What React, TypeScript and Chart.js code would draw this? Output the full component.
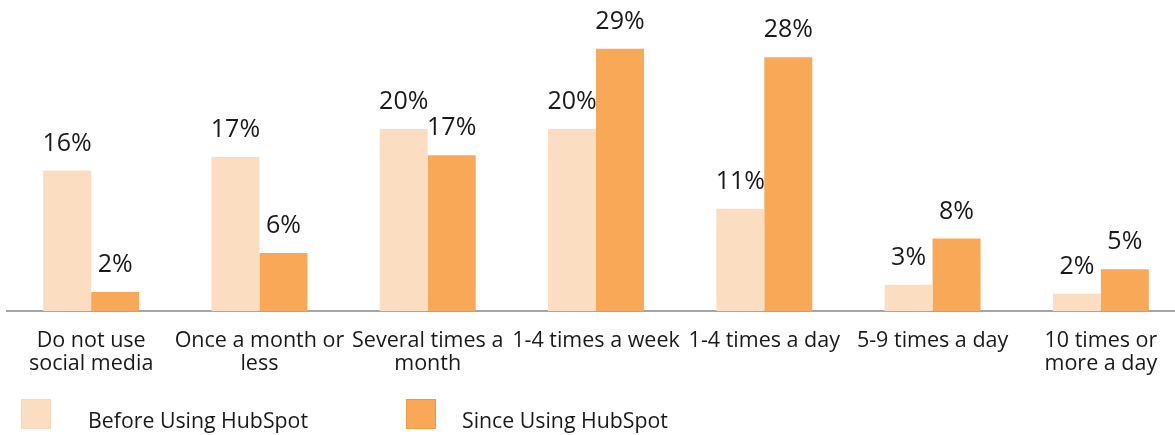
import React, { useEffect, useRef } from "react";
import { Chart, registerables } from "chart.js";

Chart.register(...registerables);

const categories: string[][] = [
  ["Do not use", "social media"],
  ["Once a month or", "less"],
  ["Several times a", "month"],
  ["1-4 times a week"],
  ["1-4 times a day"],
  ["5-9 times a day"],
  ["10 times or", "more a day"],
];
const beforeValues = [15.5, 17.0, 20.1, 20.1, 11.3, 2.9, 1.9];
const sinceValues = [2.1, 6.4, 17.2, 28.95, 28.0, 8.0, 4.6];
const beforeLabels = ["16%", "17%", "20%", "20%", "11%", "3%", "2%"];
const sinceLabels = ["2%", "6%", "17%", "29%", "28%", "8%", "5%"];
const seriesNames = ["Before Using HubSpot", "Since Using HubSpot"];

const LIGHT = "#FBDDC1";
const ORANGE = "#F9A857";
const FONT = "'Open Sans', 'Noto Sans', sans-serif";

const valueLabelPlugin = {
  id: "valueLabels",
  afterDatasetsDraw(chart: any) {
    const ctx = chart.ctx;
    const texts = [beforeLabels, sinceLabels];
    ctx.save();
    ctx.font = `25px ${FONT}`;
    ctx.fillStyle = "#1a1a1a";
    ctx.textAlign = "center";
    ctx.textBaseline = "middle";
    chart.data.datasets.forEach((_: any, di: number) => {
      const meta = chart.getDatasetMeta(di);
      meta.data.forEach((bar: any, i: number) => {
        ctx.fillText(texts[di][i], bar.x, bar.y - 27);
      });
    });
    ctx.restore();
  },
};

const legendPlugin = {
  id: "customLegend",
  afterDraw(chart: any) {
    const ctx = chart.ctx;
    const items = [
      { box: 21, text: 88, fill: LIGHT, stroke: "#F8D6B8" },
      { box: 406, text: 462, fill: ORANGE, stroke: "#F19A43" },
    ];
    ctx.save();
    items.forEach((it, i) => {
      ctx.fillStyle = it.fill;
      ctx.fillRect(it.box, 399, 30, 30);
      ctx.strokeStyle = it.stroke;
      ctx.lineWidth = 1;
      ctx.strokeRect(it.box + 0.5, 399.5, 29, 29);
      ctx.font = `21.3px ${FONT}`;
      ctx.fillStyle = "#1a1a1a";
      ctx.textAlign = "left";
      ctx.textBaseline = "alphabetic";
      ctx.fillText(seriesNames[i], it.text, 428);
    });
    ctx.restore();
  },
};

export default function App() {
  const ref = useRef<HTMLCanvasElement | null>(null);
  useEffect(() => {
    if (!ref.current) return;
    const chart = new Chart(ref.current, {
      type: "bar",
      data: {
        labels: categories,
        datasets: [
          {
            label: seriesNames[0],
            data: beforeValues,
            backgroundColor: LIGHT,
            categoryPercentage: 0.57,
            barPercentage: 1.0,
          },
          {
            label: seriesNames[1],
            data: sinceValues,
            backgroundColor: ORANGE,
            categoryPercentage: 0.57,
            barPercentage: 1.0,
          },
        ],
      },
      options: {
        responsive: false,
        animation: false,
        layout: { padding: { left: 7, right: 5, top: 3, bottom: 0 } },
        plugins: {
          legend: { display: false },
          tooltip: { enabled: false },
        },
        scales: {
          x: {
            grid: { display: false, drawTicks: false },
            border: { display: true, color: "#A6A6A6", width: 2 },
            ticks: {
              color: "#1a1a1a",
              font: { family: FONT, size: 21.5, lineHeight: 1.08 },
              padding: 18,
              maxRotation: 0,
              autoSkip: false,
            },
            afterFit(scale: any) {
              scale.height = 124;
            },
          },
          y: {
            display: false,
            min: 0,
            max: 34,
          },
        },
      },
      plugins: [valueLabelPlugin, legendPlugin],
    });
    return () => chart.destroy();
  }, []);
  return (
    <div
      style={{
        position: "fixed",
        left: 0,
        top: 0,
        width: 1175,
        height: 435,
        overflow: "hidden",
        background: "#fff",
      }}
    >
      <canvas ref={ref} width={1190} height={435} style={{ display: "block" }} />
    </div>
  );
}
